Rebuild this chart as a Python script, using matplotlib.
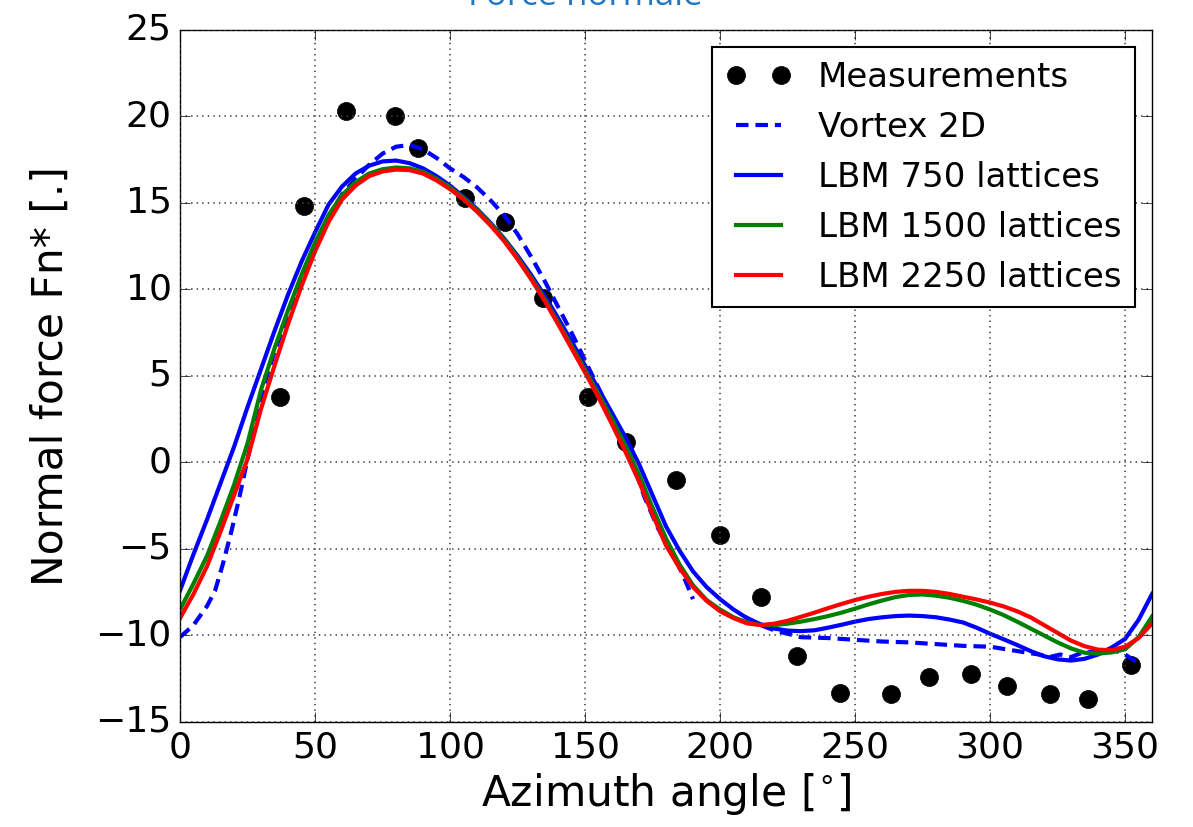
import numpy as np
import matplotlib
matplotlib.use('Agg')
import matplotlib.pyplot as plt

plt.style.use('classic')
plt.rcParams['font.family'] = ['DejaVu Sans']
plt.rcParams['mathtext.fontset'] = 'dejavusans'

# measurements
meas_x = [37, 46, 61.5, 79.6, 88, 105.5, 120.4, 134.4, 151, 165, 183.7, 200,
          215, 228.5, 244.4, 263.3, 277.4, 292.9, 306.3, 322.2, 336.3, 352.2]
meas_y = [3.8, 14.8, 20.3, 20.0, 18.2, 15.3, 13.9, 9.5, 3.8, 1.2, -1.0, -4.2,
          -7.8, -11.2, -13.3, -13.4, -12.4, -12.2, -12.9, -13.4, -13.7, -11.7]

# LBM curves, read every 5 degrees
lbm_x = list(range(0, 361, 5))
lbm750 = [-7.4, -5.3, -3.3, -1.2, 0.9, 3.2, 5.4, 7.6, 9.7, 11.6, 13.3, 14.9,
          15.95, 16.7, 17.15, 17.4, 17.45, 17.3, 17.0, 16.55, 16.0, 15.35,
          14.65, 13.85, 12.95, 11.95, 10.85, 9.65, 8.35, 7.0, 5.6, 4.25, 2.85,
          1.45, -0.1, -1.9, -3.7, -5.1, -6.3, -7.2, -7.9, -8.5, -9.0, -9.35,
          -9.6, -9.72, -9.75, -9.7, -9.55, -9.38, -9.2, -9.05, -8.95, -8.88,
          -8.85, -8.88, -8.95, -9.08, -9.25, -9.55, -9.9, -10.22, -10.55,
          -10.9, -11.2, -11.38, -11.45, -11.35, -11.1, -10.7, -10.2, -9.1,
          -7.6]
lbm1500 = [-8.5, -7.0, -5.4, -3.4, -1.3, 1.1, 4.2, 6.6, 8.8, 10.85, 12.7,
           14.3, 15.45, 16.2, 16.7, 16.95, 17.05, 17.0, 16.8, 16.4, 15.9, 15.3,
           14.6, 13.8, 12.9, 11.85, 10.7, 9.45, 8.1, 6.75, 5.35, 3.95, 2.5,
           0.95, -0.7, -2.6, -4.4, -5.9, -7.1, -7.95, -8.5, -8.95, -9.25,
           -9.4, -9.4, -9.32, -9.2, -9.05, -8.88, -8.68, -8.45, -8.2, -7.98,
           -7.78, -7.66, -7.63, -7.7, -7.82, -8.0, -8.22, -8.5, -8.82, -9.2,
           -9.6, -10.0, -10.4, -10.75, -11.0, -11.05, -10.98, -10.8, -10.1,
           -8.9]
lbm2250 = [-9.0, -7.6, -6.0, -4.0, -1.9, 0.2, 3.1, 5.6, 8.0, 10.2, 12.2, 13.9,
           15.2, 16.0, 16.55, 16.82, 16.93, 16.9, 16.7, 16.3, 15.8, 15.2, 14.5,
           13.7, 12.8, 11.75, 10.6, 9.35, 8.0, 6.6, 5.2, 3.75, 2.2, 0.6, -1.1,
           -3.0, -4.8, -6.1, -7.2, -8.0, -8.6, -9.0, -9.3, -9.4, -9.32, -9.15,
           -8.92, -8.68, -8.42, -8.18, -7.95, -7.76, -7.6, -7.48, -7.42,
           -7.42, -7.48, -7.6, -7.76, -7.92, -8.1, -8.32, -8.6, -8.95, -9.4,
           -9.85, -10.3, -10.62, -10.82, -10.85, -10.65, -10.15, -9.3]

# Vortex 2D (no data between ~190 and ~209)
vortex_x = [0, 5, 10, 13, 16, 19, 22, 25, 28, 31, 35, 40, 45, 50, 55, 60, 65,
            70, 75, 80, 85, 90, 95, 100, 105, 110, 115, 120, 125, 130, 135,
            140, 145, 150, 155, 160, 167, 172, 177, 182, 186, 190, 191, 209,
            215, 220, 230, 240, 250, 260, 270, 280, 290, 300, 306, 312, 318,
            322, 326, 330, 334, 338, 342, 346, 350, 354]
vortex_y = [-10.1, -9.4, -8.3, -7.4, -5.8, -4.0, -2.0, 0.2, 2.3, 4.4, 6.4, 8.6,
            10.8, 12.6, 14.2, 15.5, 16.4, 17.2, 17.85, 18.25, 18.35, 18.1,
            17.6, 17.0, 16.5, 15.9, 15.15, 14.3, 13.2, 11.9, 10.5, 9.0, 7.5,
            5.9, 4.3, 2.7, 0.3, -2.0, -3.8, -5.2, -6.4, -7.9, np.nan, -8.9,
            -9.4, -9.7, -10.1, -10.15, -10.25, -10.35, -10.4, -10.5, -10.6,
            -10.65, -10.8, -10.95, -11.1, -11.25, -11.1, -11.25, -11.0,
            -10.95, -10.8, -10.85, -11.1, -11.5]

fig = plt.figure(figsize=(11.93, 8.27), dpi=100, facecolor='white')
ax = fig.add_axes([0.1509, 0.127, 0.8148, 0.8368])

ax.plot(meas_x, meas_y, 'ko', ms=13, label='Measurements')
ax.plot(vortex_x, vortex_y, 'b--', lw=3, dashes=(9, 5), label='Vortex 2D')
ax.plot(lbm_x, lbm750, 'b-', lw=3, label='LBM 750 lattices')
ax.plot(lbm_x, lbm1500, 'g-', lw=3, label='LBM 1500 lattices')
ax.plot(lbm_x, lbm2250, 'r-', lw=3, label='LBM 2250 lattices')

ax.set_xlim(0, 360)
ax.set_ylim(-15, 25)
ax.set_xticks(np.arange(0, 351, 50))
ax.set_yticks(np.arange(-15, 26, 5))
ax.grid(True, color='#444444', linestyle=':', linewidth=1.2)
ax.tick_params(labelsize=26, length=7, pad=6)
ax.set_xlabel(r'Azimuth angle [$^{\circ}$]', fontsize=30.5)
ax.set_ylabel('Normal force Fn* [.]', fontsize=30.5, labelpad=17)

leg = ax.legend(loc='upper right', fontsize=24.5, numpoints=2,
                handlelength=1.9, handletextpad=0.8, labelspacing=0.5,
                borderaxespad=0.5, fancybox=False)
leg.get_frame().set_linewidth(1.5)
leg.get_frame().set_edgecolor('black')

fig.text(0.491, 1 - 5 / 827, 'Force normale', color='#1F78C1', fontsize=25,
         ha='center', va='baseline', family='Open Sans')

fig.savefig('out.png', dpi=100, facecolor='white')
